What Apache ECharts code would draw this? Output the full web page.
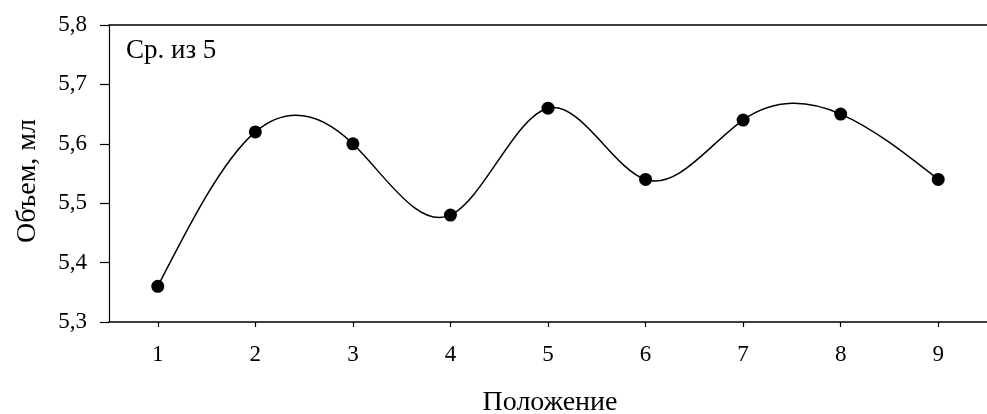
<!DOCTYPE html>
<html>
<head>
<meta charset="utf-8">
<script src="https://cdn.jsdelivr.net/npm/echarts@6/dist/echarts.min.js"></script>
<style>
html,body{margin:0;padding:0;background:#fff;}
#chart{width:987px;height:414px;}
</style>
</head>
<body>
<div id="chart"></div>
<script>
const categories = ['1','2','3','4','5','6','7','8','9'];
const values = [5.36, 5.62, 5.60, 5.48, 5.66, 5.54, 5.64, 5.65, 5.54];
const yTicks = [5.3, 5.4, 5.5, 5.6, 5.7, 5.8];
const xTitle = 'Положение';
const yTitle = 'Объем, мл';
const note = 'Ср. из 5';

const FONT = '"Liberation Serif", "Times New Roman", serif';

// natural cubic spline slopes (uniform spacing = 1 category step)
function splineSlopes(y) {
  const n = y.length;
  const M = new Array(n).fill(0);
  if (n > 2) {
    const m = n - 2;
    const a = [], b = [], c = [], d = [];
    for (let k = 0; k < m; k++) {
      const i = k + 1;
      a.push(1); b.push(4); c.push(1);
      d.push(6 * (y[i + 1] - 2 * y[i] + y[i - 1]));
    }
    for (let k = 1; k < m; k++) {
      const w = a[k] / b[k - 1];
      b[k] -= w * c[k - 1];
      d[k] -= w * d[k - 1];
    }
    const sol = new Array(m);
    sol[m - 1] = d[m - 1] / b[m - 1];
    for (let k = m - 2; k >= 0; k--) sol[k] = (d[k] - c[k] * sol[k + 1]) / b[k];
    for (let k = 0; k < m; k++) M[k + 1] = sol[k];
  }
  const s = [];
  for (let i = 0; i < n - 1; i++) s.push((y[i + 1] - y[i]) - (2 * M[i] + M[i + 1]) / 6);
  s.push((y[n - 1] - y[n - 2]) + (M[n - 2] + 2 * M[n - 1]) / 6);
  return s;
}
const slopes = splineSlopes(values);

function renderSegment(params, api) {
  const i = params.dataIndex;
  if (i >= values.length - 1) return null;
  const p1 = api.coord([i, values[i]]);
  const p2 = api.coord([i + 1, values[i + 1]]);
  const dx = p2[0] - p1[0];
  const cy1 = api.coord([i, values[i] + slopes[i] / 3])[1];
  const cy2 = api.coord([i + 1, values[i + 1] - slopes[i + 1] / 3])[1];
  return {
    type: 'bezierCurve',
    shape: {
      x1: p1[0], y1: p1[1],
      cpx1: p1[0] + dx / 3, cpy1: cy1,
      cpx2: p2[0] - dx / 3, cpy2: cy2,
      x2: p2[0], y2: p2[1]
    },
    style: {stroke: '#000', lineWidth: 1.5, fill: null}
  };
}

const chart = echarts.init(document.getElementById('chart'), null, {renderer: 'canvas'});
chart.setOption({
  animation: false,
  backgroundColor: '#fff',
  grid: {left: 109, top: 25, bottom: 92, right: -12, containLabel: false},
  xAxis: [{
    type: 'category',
    data: categories,
    boundaryGap: true,
    axisLine: {show: true, lineStyle: {color: '#000', width: 1.5}},
    axisTick: {show: true, alignWithLabel: true, length: 5, lineStyle: {color: '#000', width: 1.2}},
    axisLabel: {color: '#000', fontFamily: FONT, fontSize: 23, margin: 21},
    splitLine: {show: false}
  }, {
    type: 'category',
    data: categories,
    position: 'top',
    axisLine: {show: true, lineStyle: {color: '#000', width: 1.5}},
    axisTick: {show: false},
    axisLabel: {show: false},
    splitLine: {show: false}
  }],
  yAxis: {
    type: 'value',
    min: yTicks[0],
    max: yTicks[yTicks.length - 1],
    interval: 0.1,
    axisLine: {show: true, lineStyle: {color: '#000', width: 1.2}},
    axisTick: {show: true, inside: false, length: 9, lineStyle: {color: '#000', width: 1.2}},
    axisLabel: {color: '#000', fontFamily: FONT, fontSize: 23, margin: 22,
      formatter: v => v.toFixed(1).replace('.', ',')},
    splitLine: {show: false}
  },
  graphic: [
    {type: 'text', left: 126, top: 37, style: {text: note, font: '27px ' + FONT, fill: '#000'}},
    {type: 'text', x: 550, y: 403, style: {text: xTitle, font: '28px ' + FONT, fill: '#000', textAlign: 'center', textVerticalAlign: 'middle'}},
    {type: 'text', x: 28, y: 181, rotation: Math.PI / 2, style: {text: yTitle, font: '28px ' + FONT, fill: '#000', textAlign: 'center', textVerticalAlign: 'middle'}}
  ],
  series: [{
    type: 'custom',
    data: values,
    renderItem: renderSegment,
    z: 2
  }, {
    type: 'scatter',
    data: values,
    symbol: 'circle',
    symbolSize: 13,
    itemStyle: {color: '#000', opacity: 1},
    z: 3
  }]
});
</script>
</body>
</html>
